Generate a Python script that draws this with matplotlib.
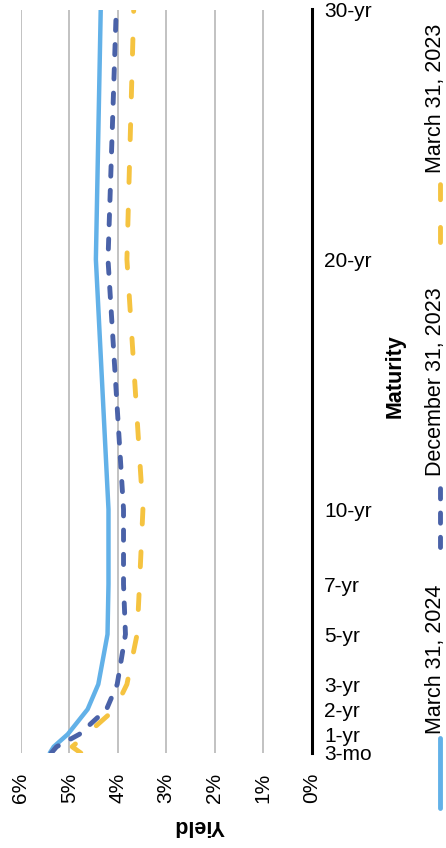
import matplotlib
matplotlib.use("Agg")
import matplotlib.pyplot as plt
from matplotlib.lines import Line2D

plt.rcParams['font.family'] = ['Liberation Sans', 'DejaVu Sans']

# maturities in years (3-mo, 6-mo, 1-yr ... 30-yr)
maturity = [0.25, 0.5, 1, 2, 3, 5, 7, 10, 20, 30]
tick_pos = [0.25, 1, 2, 3, 5, 7, 10, 20, 30]
tick_labels = ["3-mo", "1-yr", "2-yr", "3-yr", "5-yr", "7-yr", "10-yr", "20-yr", "30-yr"]

# yields in percent
mar_2024 = [5.40, 5.32, 5.03, 4.62, 4.40, 4.21, 4.19, 4.19, 4.45, 4.35]
dec_2023 = [5.37, 5.26, 4.79, 4.23, 4.01, 3.84, 3.88, 3.88, 4.20, 4.03]
mar_2023 = [4.76, 4.94, 4.64, 4.06, 3.81, 3.60, 3.55, 3.48, 3.81, 3.67]

yield_ticks = [0, 1, 2, 3, 4, 5, 6]
series_names = ["March 31, 2024", "December 31, 2023", "March 31, 2023"]

c_light = "#62b1e8"
c_dark = "#4a62a8"
c_gold = "#f5c340"

W, H = 446, 848
fig = plt.figure(figsize=(W / 100, H / 100), dpi=100)
ax = fig.add_axes([20.7 / W, 1 - 753 / H, (311.7 - 20.7) / W, (753 - 9.5) / H])

ax.plot(mar_2024, maturity, color=c_light, lw=3.2, solid_capstyle='round', zorder=3)
ax.plot(dec_2023, maturity, color=c_dark, lw=3.5, dashes=(2.1, 2.9),
        dash_capstyle='round', zorder=4)
ax.plot(mar_2023, maturity, color=c_gold, lw=3.5, dashes=(3.1, 5.7),
        dash_capstyle='round', zorder=2)

ax.set_xlim(6, 0)
ax.set_ylim(0.25, 30)

ax.set_xticks(yield_ticks)
ax.set_xticklabels([f"{t}%" for t in yield_ticks], rotation=90, fontsize=15)
ax.tick_params(axis='x', length=0, pad=14)
ax.grid(axis='x', color='#bdbdbd', lw=1.3, zorder=0)
ax.set_axisbelow(True)

ax.yaxis.tick_right()
ax.set_yticks(tick_pos)
ax.set_yticklabels(tick_labels, fontsize=15)
ax.tick_params(axis='y', length=0, pad=9)

for side in ['top', 'bottom', 'left']:
    ax.spines[side].set_visible(False)
ax.spines['right'].set_color('black')
ax.spines['right'].set_linewidth(2.2)

fig.text(199 / W, 1 - 826 / H, "Yield", rotation=180, fontsize=15.5,
         fontweight='bold', ha='center', va='center')
fig.text(395 / W, 1 - 376 / H, "Maturity", rotation=90, fontsize=15.5,
         fontweight='bold', ha='center', va='center')

# legend drawn sideways, bottom to top
legend_y = [(808, 738), (547, 480), (242, 177)]
styles = [dict(color=c_light, lw=3.5, solid_capstyle='round'),
          dict(color=c_dark, lw=3.5, dashes=(2.1, 2.9), dash_capstyle='round'),
          dict(color=c_gold, lw=3.5, dashes=(3.1, 5.7), dash_capstyle='round')]
for name, (y0, y1), st in zip(series_names, legend_y, styles):
    fig.add_artist(Line2D([440 / W, 440 / W], [1 - y0 / H, 1 - y1 / H],
                          transform=fig.transFigure, **st))
    fig.text(435 / W, 1 - (y1 - 4) / H, name, rotation=90, fontsize=15.5,
             ha='center', va='bottom')

fig.savefig("out.png", dpi=100)
